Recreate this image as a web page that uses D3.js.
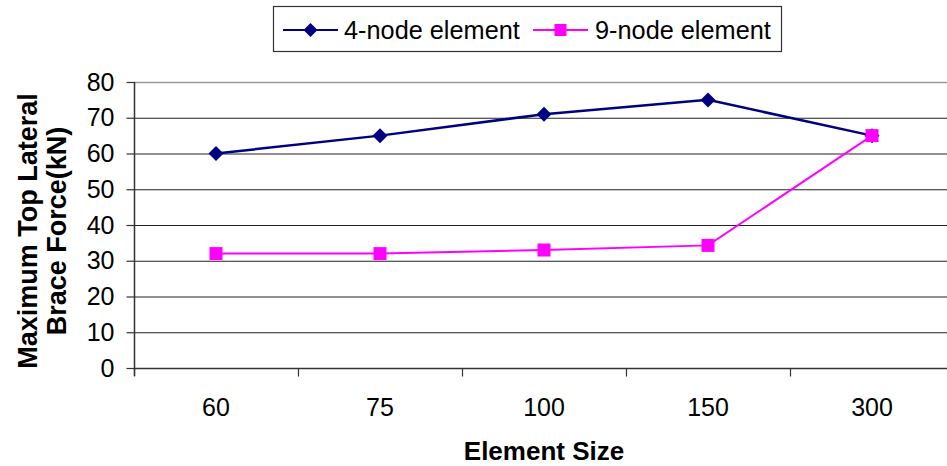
<!DOCTYPE html>
<html>
<head>
<meta charset="utf-8">
<script src="https://cdn.jsdelivr.net/npm/d3@7"></script>
<style>
  html, body { margin: 0; padding: 0; background: #fff; }
  svg { display: block; font-family: "Liberation Sans", Arial, sans-serif; }
</style>
</head>
<body>
<svg id="chart" width="947" height="466"></svg>
<script>
// Element sizes along the x axis
const categories = ["60", "75", "100", "150", "300"];
// Maximum top lateral brace force (kN) per mesh type
const fourNode = [60, 65, 71, 75, 65];
const nineNode = [32, 32, 33, 34.3, 65];
const yTicks = [0, 10, 20, 30, 40, 50, 60, 70, 80];
const seriesNames = ["4-node element", "9-node element"];

const svg = d3.select("#chart");
const margin = { left: 134, top: 82, right: 954, bottom: 368 };

const x = d3.scaleBand().domain(categories).range([margin.left, margin.right]).padding(0);
const y = d3.scaleLinear().domain([0, 80]).range([margin.bottom, margin.top]);

// Horizontal gridlines
svg.append("g").selectAll("line").data(yTicks.filter(d => d > 0 && d < 80)).join("line")
  .attr("x1", margin.left).attr("x2", margin.right)
  .attr("y1", d => y(d) + 0.5).attr("y2", d => y(d) + 0.5)
  .attr("stroke", "#222").attr("stroke-width", 1.2);

// Top border of the plot area
svg.append("line")
  .attr("x1", margin.left).attr("x2", margin.right)
  .attr("y1", y(80) + 0.5).attr("y2", y(80) + 0.5)
  .attr("stroke", "#999").attr("stroke-width", 1.5);

// Y axis
const yAxis = d3.axisLeft(y).tickValues(yTicks).tickSize(8).tickPadding(12);
const gy = svg.append("g").attr("transform", `translate(${margin.left + 0.5},0)`).call(yAxis);
gy.select(".domain").remove();
gy.selectAll(".tick line").attr("stroke", "#333").attr("stroke-width", 1.2);
gy.selectAll(".tick text").attr("font-size", 25).attr("fill", "#000")
  .attr("font-family", "'Liberation Sans', Arial, sans-serif");
svg.append("line")
  .attr("x1", margin.left + 0.5).attr("x2", margin.left + 0.5)
  .attr("y1", margin.top).attr("y2", margin.bottom + 8)
  .attr("stroke", "#333").attr("stroke-width", 1.5);

// X axis: ticks sit at the category boundaries
const gx = svg.append("g").attr("transform", `translate(0,${margin.bottom + 0.5})`);
gx.append("line").attr("x1", margin.left).attr("x2", margin.right)
  .attr("stroke", "#333").attr("stroke-width", 1.5);
const bounds = categories.map(c => x(c)).concat([x(categories[categories.length - 1]) + x.bandwidth()]);
gx.selectAll(".bt").data(bounds).join("line").attr("class", "bt")
  .attr("x1", d => Math.round(d) + 0.5).attr("x2", d => Math.round(d) + 0.5)
  .attr("y1", 0).attr("y2", 8)
  .attr("stroke", "#333").attr("stroke-width", 1.2);
gx.selectAll(".lbl").data(categories).join("text").attr("class", "lbl")
  .attr("x", d => x(d) + x.bandwidth() / 2).attr("y", 47)
  .attr("text-anchor", "middle").attr("font-size", 25).attr("fill", "#000")
  .text(d => d);

// Axis titles
svg.append("text")
  .attr("x", x("100") + x.bandwidth() / 2).attr("y", 460)
  .attr("text-anchor", "middle").attr("font-size", 26).attr("font-weight", "bold")
  .text("Element Size");

const yTitle = svg.append("text")
  .attr("transform", "translate(37,231) rotate(-90)")
  .attr("text-anchor", "middle").attr("font-size", 27).attr("font-weight", "bold");
yTitle.append("tspan").attr("x", 0).attr("dy", 0).text("Maximum Top Lateral");
yTitle.append("tspan").attr("x", 0).attr("dy", 29).text("Brace Force(kN)");

// Series lines and markers
const cx = c => x(c) + x.bandwidth() / 2;
const line = d3.line().x(d => cx(d.c)).y(d => y(d.v));
const toPts = vals => categories.map((c, i) => ({ c, v: vals[i] }));

svg.append("path").datum(toPts(fourNode)).attr("d", line)
  .attr("fill", "none").attr("stroke", "#000080").attr("stroke-width", 2.5);
svg.append("g").selectAll("path").data(toPts(fourNode)).join("path")
  .attr("transform", d => `translate(${cx(d.c)},${y(d.v)})`)
  .attr("d", "M0,-7.5L7.5,0L0,7.5L-7.5,0Z").attr("fill", "#000080");

svg.append("path").datum(toPts(nineNode)).attr("d", line)
  .attr("fill", "none").attr("stroke", "#FF00FF").attr("stroke-width", 2);
svg.append("g").selectAll("rect").data(toPts(nineNode)).join("rect")
  .attr("x", d => cx(d.c) - 6.5).attr("y", d => y(d.v) - 6.5)
  .attr("width", 13).attr("height", 13).attr("fill", "#FF00FF");

// Legend
const lg = svg.append("g");
lg.append("rect").attr("x", 273.5).attr("y", 6.5).attr("width", 508).attr("height", 45)
  .attr("fill", "#fff").attr("stroke", "#333").attr("stroke-width", 1.2);
const items = [
  { name: seriesNames[0], color: "#000080", x0: 283, tx: 344, shape: "diamond" },
  { name: seriesNames[1], color: "#FF00FF", x0: 533, tx: 595, shape: "square" }
];
items.forEach(it => {
  lg.append("line").attr("x1", it.x0).attr("x2", it.x0 + 55).attr("y1", 30).attr("y2", 30)
    .attr("stroke", it.color).attr("stroke-width", 2);
  const mx = it.x0 + 27.5;
  if (it.shape === "diamond") {
    lg.append("path").attr("transform", `translate(${mx},30)`)
      .attr("d", "M0,-7L7,0L0,7L-7,0Z").attr("fill", it.color);
  } else {
    lg.append("rect").attr("x", mx - 6).attr("y", 24).attr("width", 12).attr("height", 12)
      .attr("fill", it.color);
  }
  lg.append("text").attr("x", it.tx).attr("y", 38.5).attr("font-size", 25.3).attr("fill", "#000")
    .text(it.name);
});
</script>
</body>
</html>
